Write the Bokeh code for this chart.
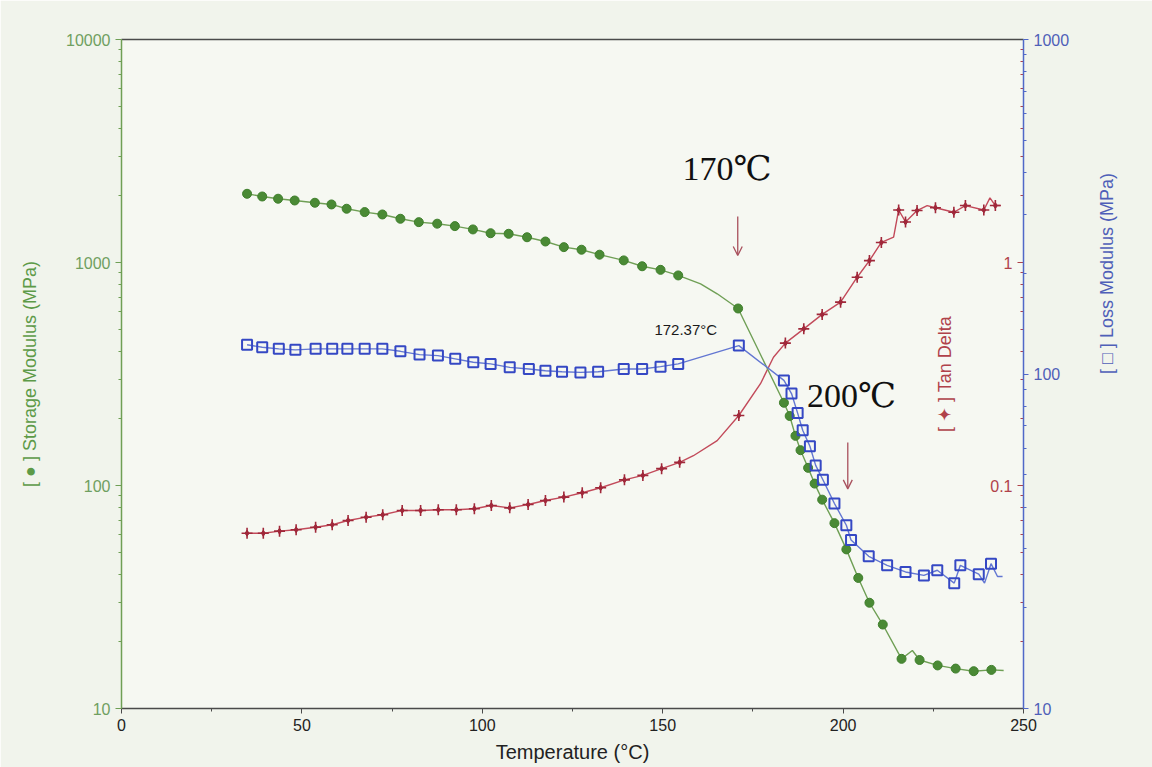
from bokeh.plotting import figure
from bokeh.models import (Range1d, LogScale, LogAxis, LinearAxis, FixedTicker,
                          SingleIntervalTicker, BasicTickFormatter, Label, Arrow, OpenHead)
from bokeh.embed import file_html
from bokeh.resources import INLINE
import math

# ---------------- data ----------------
# Storage modulus (MPa) markers
storage_T = [34.8, 39.0, 43.4, 48.0, 53.6, 58.2, 62.4, 67.4, 72.3, 77.3, 82.4, 87.5, 92.4, 97.4,
             102.3, 107.3, 112.4, 117.5, 122.6, 127.5, 132.5, 139.2, 144.3, 149.4, 154.3, 170.9,
             183.6, 185.2, 186.8, 188.2, 190.3, 192.1, 194.2, 197.6, 200.9, 204.2, 207.3, 211.0,
             216.2, 221.2, 226.2, 231.2, 236.2, 241.1]
storage_E = [2033, 1977, 1932, 1897, 1853, 1821, 1742, 1683, 1642, 1571, 1517, 1493, 1456, 1407,
             1353, 1345, 1298, 1242, 1172, 1141, 1084, 1022, 962, 927, 875, 622,
             235, 205, 167, 144, 120, 102, 86.4, 67.8, 51.7, 38.5, 29.8, 23.8,
             16.7, 16.5, 15.6, 15.1, 14.7, 14.9]
# Storage modulus trace (line)
storage_line_T = [34.8, 39.0, 43.4, 48.0, 53.6, 58.2, 62.4, 67.4, 72.3, 77.3, 82.4, 87.5, 92.4, 97.4,
                  102.3, 107.3, 112.4, 117.5, 122.6, 127.5, 132.5, 139.2, 144.3, 149.4, 154.3, 160.5,
                  165.1, 170.9, 183.6, 185.2, 186.8, 188.2, 190.3, 192.1, 194.2, 197.6, 200.9, 204.2,
                  207.3, 211.0, 216.2, 219.2, 221.2, 226.2, 231.2, 236.2, 241.1, 244.5]
storage_line_E = [2033, 1977, 1932, 1897, 1853, 1821, 1742, 1683, 1642, 1571, 1517, 1493, 1456, 1407,
                  1353, 1345, 1298, 1242, 1172, 1141, 1084, 1022, 962, 927, 875, 802,
                  724, 622, 235, 205, 167, 144, 120, 102, 86.4, 67.8, 51.7, 38.5,
                  29.8, 23.8, 16.7, 18.2, 16.5, 15.6, 15.1, 14.7, 14.9, 14.8]

# Loss modulus (MPa) markers
loss_T = [34.8, 39.0, 43.6, 48.2, 53.8, 58.4, 62.6, 67.4, 72.3, 77.3, 82.6, 87.7, 92.5, 97.5,
          102.3, 107.6, 112.9, 117.5, 122.1, 127.2, 132.1, 139.2, 144.3, 149.4, 154.3, 171.1,
          183.6, 185.7, 187.4, 188.8, 190.8, 192.4, 194.4, 197.6, 200.9, 202.2, 207.1, 212.2,
          217.3, 222.4, 226.1, 230.8, 232.5, 237.6, 241.0]
loss_G = [122.3, 120.2, 118.9, 118.1, 118.9, 118.9, 118.9, 118.9, 118.9, 116.9, 114.3, 113.5, 111.0,
          108.4, 107.2, 104.7, 103.5, 102.3, 101.6, 101.1, 101.6, 103.5, 103.5, 105.2, 107.2, 121.6,
          95.7, 87.4, 76.4, 67.9, 60.8, 53.3, 48.3, 41.0, 35.3, 31.9, 28.5, 26.8,
          25.6, 25.0, 25.9, 23.7, 26.8, 25.2, 27.1]
# Loss modulus trace (line)
loss_line_T = [34.8, 39.0, 43.6, 48.2, 53.8, 58.4, 62.6, 67.4, 72.3, 77.3, 82.6, 87.7, 92.5, 97.5,
               102.3, 107.6, 112.9, 117.5, 122.1, 127.2, 132.1, 139.2, 144.3, 149.4, 154.3, 171.1,
               183.6, 185.7, 187.4, 188.8, 190.8, 192.4, 194.4, 197.6, 200.9, 202.2, 207.1, 212.2,
               217.3, 222.4, 226.1, 230.8, 232.5, 237.6, 239.2, 241.0, 242.8, 244.2]
loss_line_G = [122.3, 120.2, 118.9, 118.1, 118.9, 118.9, 118.9, 118.9, 118.9, 116.9, 114.3, 113.5, 111.0,
               108.4, 107.2, 104.7, 103.5, 102.3, 101.6, 101.1, 101.6, 103.5, 103.5, 105.2, 107.2, 121.6,
               95.7, 87.4, 76.4, 67.9, 60.8, 53.3, 48.3, 41.0, 35.3, 31.9, 28.5, 26.8,
               25.6, 25.0, 25.9, 23.7, 26.8, 25.2, 23.7, 27.1, 24.8, 24.8]

# Tan delta markers
tan_T = [34.8, 39.3, 43.8, 48.4, 53.8, 58.4, 62.8, 67.8, 72.4, 77.8, 82.9, 87.8, 92.8, 97.8,
         102.5, 107.6, 112.7, 117.5, 122.6, 127.7, 132.8, 139.4, 144.5, 149.7, 154.7, 171.1,
         184.0, 189.1, 194.2, 199.3, 203.9, 207.3, 210.6, 215.4, 217.3, 220.5, 225.6, 230.7,
         233.9, 239.0, 242.2]
tan_D = [0.0611, 0.0611, 0.0624, 0.0633, 0.0650, 0.0667, 0.0697, 0.0721, 0.0739, 0.0773, 0.0773,
         0.0778, 0.0778, 0.0787, 0.0813, 0.0794, 0.0822, 0.0857, 0.0887, 0.0928, 0.0977, 0.106,
         0.111, 0.119, 0.127, 0.206, 0.435, 0.504, 0.585, 0.664, 0.859, 1.02, 1.23, 1.72, 1.52,
         1.71, 1.76, 1.68, 1.80, 1.72, 1.80]
# Tan delta trace (line)
tan_line_T = [34.8, 39.3, 43.8, 48.4, 53.8, 58.4, 62.8, 67.8, 72.4, 77.8, 82.9, 87.8, 92.8, 97.8,
              102.5, 107.6, 112.7, 117.5, 122.6, 127.7, 132.8, 139.4, 144.5, 149.7, 154.7, 158.5,
              165.1, 171.1, 177.1, 180.7, 184.0, 189.1, 194.2, 199.3, 203.9, 207.3, 210.6, 214.0,
              215.4, 217.3, 220.5, 223.3, 225.6, 230.7, 233.9, 239.0, 240.7, 242.2, 243.6]
tan_line_D = [0.0611, 0.0611, 0.0624, 0.0633, 0.0650, 0.0667, 0.0697, 0.0721, 0.0739, 0.0773, 0.0773,
              0.0778, 0.0778, 0.0787, 0.0813, 0.0794, 0.0822, 0.0857, 0.0887, 0.0928, 0.0977, 0.106,
              0.111, 0.119, 0.127, 0.136, 0.159, 0.206, 0.286, 0.376, 0.435, 0.504, 0.585, 0.664,
              0.859, 1.02, 1.23, 1.30, 1.72, 1.52, 1.71, 1.80, 1.76, 1.68, 1.80, 1.72, 1.95, 1.80,
              1.80]

# ticks
x_ticks_interval = 50
storage_major_ticks = [10, 100, 1000, 10000]
loss_major_ticks = [10, 100, 1000]
tan_major_ticks = [0.1, 1]
storage_minor_ticks = [m * 10.0 ** e for e in (1, 2, 3) for m in range(2, 10)]
loss_minor_ticks = [m * 10.0 ** e for e in (1, 2) for m in range(2, 10)]
tan_minor_ticks = [m * 10.0 ** e for e in (-2, -1, 0) for m in range(2, 10)]

# annotations: (T, storage-axis value)
ann_170 = (155.5, 2640)
ann_200 = (190.0, 253)
ann_peak = (147.7, 499)
arrow1 = (170.8, 1607, 1075)
arrow2 = (201.3, 156, 96.6)
footer_pos = (221.6, 6.09)

# ---------------- styling ----------------
FONT = "Liberation Sans"
SERIF = "'Liberation Serif', 'DejaVu Serif', serif"
GREEN_M, GREEN_L, GREEN_T = "#3f7f2c", "#6f9f55", "#5d9a48"
BLUE_M, BLUE_L, BLUE_T = "#3548c4", "#6276d2", "#4f5fb8"
RED_M, RED_L, RED_T = "#a0283a", "#c24a5a", "#b0424a"
AX = "#4a4a4a"
ARROW_C = "#a8505c"

p = figure(width=1152, height=767, x_range=Range1d(0, 250), y_range=Range1d(10, 10000),
           y_axis_type="log", output_backend="svg", toolbar_location=None,
           min_border_left=121, min_border_right=129, min_border_top=39, min_border_bottom=59,
           background_fill_color="#f6f8f2", border_fill_color="#f1f4ec")
p.extra_y_ranges = {"tan": Range1d(0.01, 10), "loss": Range1d(10, 1000)}
p.extra_y_scales = {"tan": LogScale(), "loss": LogScale()}
p.outline_line_color = None
p.xgrid.visible = False
p.ygrid.visible = False

# bottom axis
xa = p.xaxis[0]
xa.ticker = SingleIntervalTicker(interval=x_ticks_interval, num_minor_ticks=2)
xa.axis_label = "Temperature (°C)"
xa.axis_label_text_font = FONT
xa.axis_label_text_font_size = "20px"
xa.axis_label_text_font_style = "normal"
xa.axis_label_text_color = "#222222"
xa.axis_label_standoff = 7
xa.major_label_text_font = FONT
xa.major_label_text_font_size = "16px"
xa.major_label_text_color = "#222222"
xa.major_label_standoff = 5
xa.axis_line_color = AX
xa.axis_line_width = 1.5
xa.major_tick_line_color = AX
xa.minor_tick_line_color = AX
xa.major_tick_in = 0
xa.major_tick_out = 5
xa.minor_tick_in = 0
xa.minor_tick_out = 3

# top border line
top = LinearAxis(ticker=FixedTicker(ticks=[]), axis_line_color=AX, axis_line_width=1.5,
                 major_tick_line_color=None, minor_tick_line_color=None)
p.add_layout(top, "above")

# left storage axis
ya = p.yaxis[0]
ya.ticker = FixedTicker(ticks=storage_major_ticks, minor_ticks=storage_minor_ticks)
ya.formatter = BasicTickFormatter(use_scientific=False)
ya.axis_label = "[ ● ] Storage Modulus (MPa)"
ya.axis_label_text_font = FONT
ya.axis_label_text_font_size = "18px"
ya.axis_label_text_font_style = "normal"
ya.axis_label_text_color = GREEN_T
ya.axis_label_standoff = 23
ya.major_label_text_font = FONT
ya.major_label_text_font_size = "16px"
ya.major_label_text_color = "#6f9f60"
ya.major_label_standoff = 5
ya.axis_line_color = "#6f9f55"
ya.axis_line_width = 1.5
ya.major_tick_line_color = "#6f9f55"
ya.minor_tick_line_color = "#6f9f55"
ya.major_tick_in = 0
ya.major_tick_out = 6
ya.minor_tick_in = 0
ya.minor_tick_out = 3

# tan delta axis: drawn at the right edge, ticks & labels pointing into the plot
tan_axis = LogAxis(y_range_name="tan", fixed_location=250,
                   ticker=FixedTicker(ticks=tan_major_ticks, minor_ticks=tan_minor_ticks),
                   formatter=BasicTickFormatter(use_scientific=False),
                   axis_label="[ ✦ ] Tan Delta", axis_label_text_font=FONT,
                   axis_label_text_font_size="18px", axis_label_text_font_style="normal",
                   axis_label_text_color=RED_T, axis_label_standoff=32,
                   major_label_text_font=FONT, major_label_text_font_size="16px",
                   major_label_text_color=RED_T, major_label_standoff=5,
                   axis_line_color=None, major_tick_line_color=RED_T, minor_tick_line_color=RED_T,
                   major_tick_in=0, major_tick_out=6, minor_tick_in=0, minor_tick_out=3)
p.add_layout(tan_axis, "left")

# right loss axis
loss_axis = LogAxis(y_range_name="loss",
                    ticker=FixedTicker(ticks=loss_major_ticks, minor_ticks=loss_minor_ticks),
                    formatter=BasicTickFormatter(use_scientific=False),
                    axis_label="[ □ ] Loss Modulus (MPa)", axis_label_text_font=FONT,
                    axis_label_text_font_size="18px", axis_label_text_font_style="normal",
                    axis_label_text_color=BLUE_T, axis_label_standoff=35,
                    axis_label_orientation=math.pi / 2,
                    major_label_text_font=FONT, major_label_text_font_size="16px",
                    major_label_text_color=BLUE_T, major_label_standoff=5,
                    axis_line_color="#5068c8", axis_line_width=1.5,
                    major_tick_line_color="#5068c8", minor_tick_line_color="#5068c8",
                    major_tick_in=0, major_tick_out=5, minor_tick_in=0, minor_tick_out=3)
p.add_layout(loss_axis, "right")

# ---------------- series ----------------
p.line(tan_line_T, tan_line_D, y_range_name="tan", line_color=RED_L, line_width=1.4)
p.line(storage_line_T, storage_line_E, line_color=GREEN_L, line_width=1.4)
p.line(loss_line_T, loss_line_G, y_range_name="loss", line_color=BLUE_L, line_width=1.4)

p.scatter(tan_T, tan_D, y_range_name="tan", marker="cross", size=11, line_color=RED_M, line_width=1.6)
p.scatter(tan_T, tan_D, y_range_name="tan", marker="diamond", size=6, line_color=RED_M, fill_color=RED_M)
p.scatter(storage_T, storage_E, marker="circle", size=9, line_color=GREEN_M, fill_color="#4a8a35")
p.scatter(loss_T, loss_G, y_range_name="loss", marker="square", size=10, line_color=BLUE_M,
          fill_color=None, line_width=2)

# ---------------- annotations ----------------
p.add_layout(Label(x=ann_170[0], y=ann_170[1], text="170℃", text_font=SERIF,
                   text_font_size="34px", text_color="#111111", text_baseline="alphabetic"))
p.add_layout(Label(x=ann_200[0], y=ann_200[1], text="200℃", text_font=SERIF,
                   text_font_size="34px", text_color="#111111", text_baseline="alphabetic"))
p.add_layout(Label(x=ann_peak[0], y=ann_peak[1], text="172.37°C", text_font=FONT,
                   text_font_size="15px", text_color="#1a1a1a", text_baseline="alphabetic"))
p.add_layout(Label(x=footer_pos[0], y=footer_pos[1], text="Universal V3.0G TA Instruments",
                   text_font=FONT, text_font_size="14px", text_color="#333333",
                   text_baseline="alphabetic"))

for (ax_, ys, ye) in (arrow1, arrow2):
    p.add_layout(Arrow(end=OpenHead(size=9, line_color=ARROW_C, line_width=1.3),
                       x_start=ax_, y_start=ys, x_end=ax_, y_end=ye,
                       line_color=ARROW_C, line_width=1.3))

open("out.html", "w").write(file_html(p, INLINE))
